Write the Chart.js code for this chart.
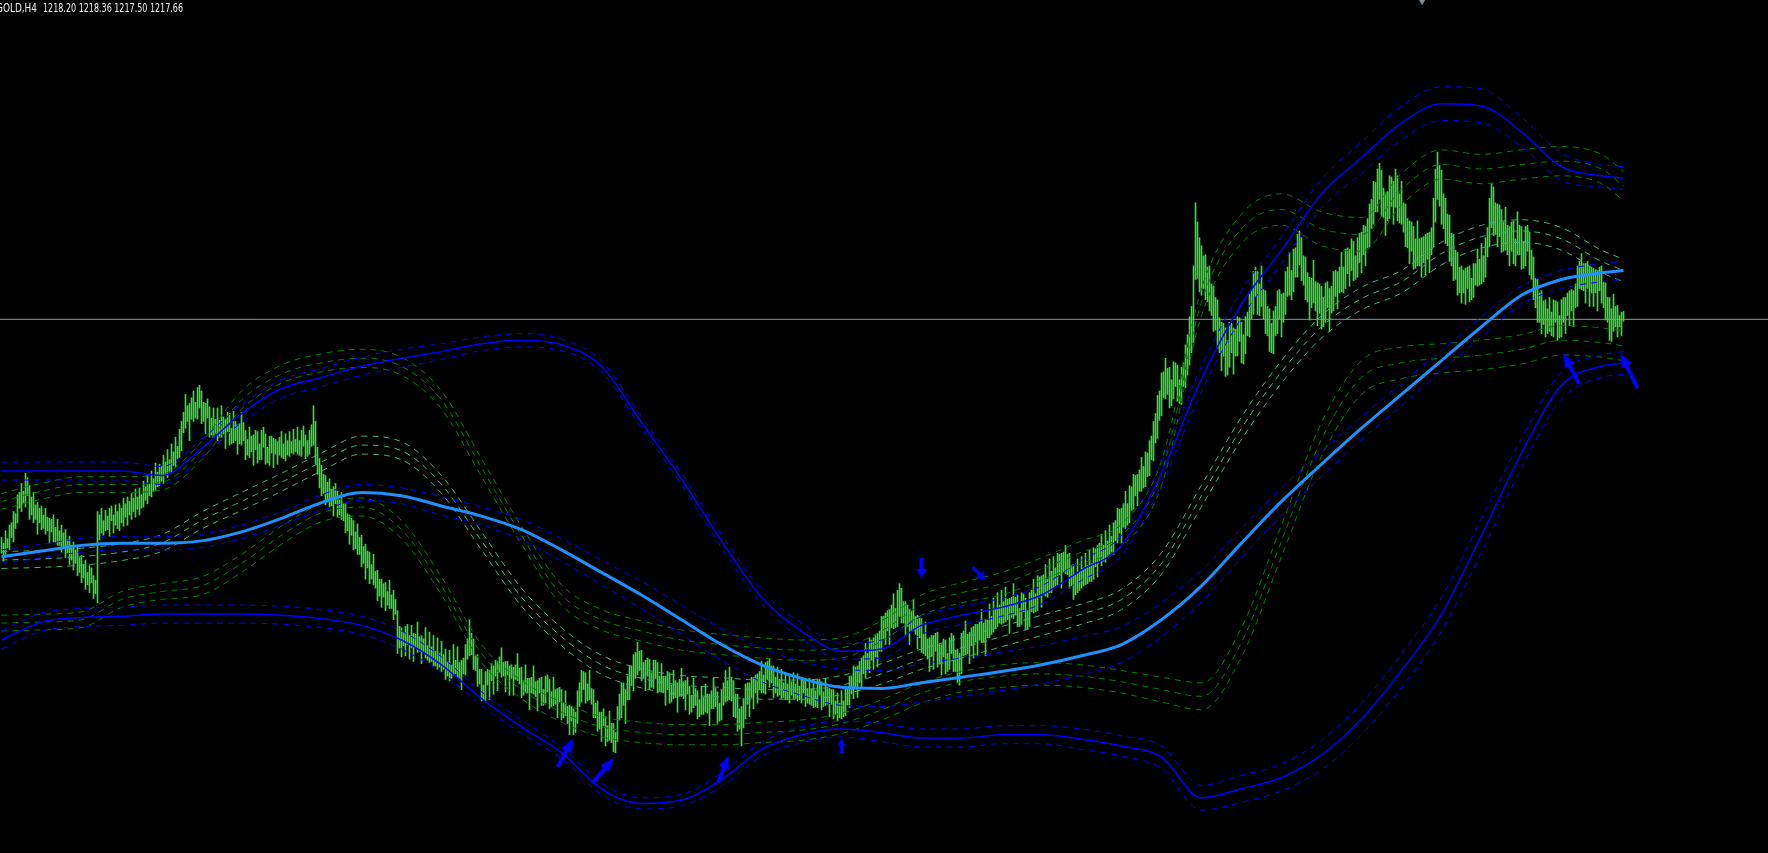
<!DOCTYPE html>
<html><head><meta charset="utf-8">
<script src="https://cdn.jsdelivr.net/npm/chart.js@4.4.1/dist/chart.umd.min.js"></script>
<style>html,body{margin:0;padding:0;background:#000;overflow:hidden}canvas{display:block}</style>
</head><body>
<canvas id="c" width="1768" height="853"></canvas>
<script>
// ---------- DATA ----------
const symbolLabel = "GOLD,H4";
const lastQuote = [1218.20, 1218.36, 1217.50, 1217.66]; // open high low close of last bar
const bidPrice = 1217.66;

// H4 bars: [high, low] for each bar index
const barHL = [
[1198.3,1196.9],[1197.8,1196.2],[1198.9,1196.8],[1198.2,1197.4],[1199.4,1197.2],[1199.6,1198.3],[1200.6,1197.9],[1200.4,1199.1],[1202.1,1199.6],[1202.3,1200.9],
[1203.1,1200.6],[1202.4,1201.3],[1204.0,1201.0],[1203.6,1202.0],[1202.9,1199.9],[1201.9,1200.3],[1202.3,1199.6],[1201.2,1199.9],[1201.4,1198.6],[1200.9,1199.6],
[1201.1,1199.0],[1200.3,1199.1],[1200.9,1198.6],[1200.1,1198.9],[1200.0,1197.8],[1199.9,1198.8],[1200.3,1197.9],[1199.2,1197.9],[1199.9,1197.6],[1198.9,1197.6],
[1199.4,1197.0],[1198.7,1197.5],[1199.0,1196.5],[1198.1,1196.9],[1198.4,1195.9],[1197.6,1196.3],[1197.9,1195.4],[1197.2,1196.0],[1197.5,1194.9],[1196.5,1195.2],
[1196.7,1194.3],[1195.9,1194.7],[1196.3,1193.7],[1195.2,1194.1],[1195.8,1193.4],[1195.6,1194.3],[1194.9,1192.9],[1194.5,1193.3],[1200.6,1192.5],[1200.3,1198.1],
[1200.9,1198.7],[1199.8,1198.5],[1200.7,1198.9],[1200.2,1199.0],[1200.9,1198.4],[1201.1,1199.8],[1200.3,1198.7],[1201.2,1199.4],[1200.6,1199.1],[1201.3,1198.9],
[1200.9,1199.6],[1201.8,1199.3],[1201.3,1200.1],[1201.9,1199.4],[1201.5,1200.3],[1202.2,1199.9],[1201.8,1200.6],[1202.6,1200.1],[1201.9,1200.8],[1202.7,1200.3],
[1202.1,1200.9],[1203.3,1201.0],[1202.8,1201.6],[1203.9,1201.3],[1203.1,1202.0],[1204.2,1201.9],[1203.5,1202.4],[1204.9,1202.5],[1204.1,1202.8],[1204.8,1202.9],
[1204.6,1203.3],[1205.6,1203.1],[1205.0,1203.8],[1206.1,1203.6],[1205.2,1204.1],[1206.6,1204.0],[1205.9,1204.7],[1207.2,1204.6],[1206.4,1205.3],[1207.9,1205.4],
[1208.6,1206.0],[1209.4,1207.6],[1211.0,1208.0],[1210.0,1208.6],[1210.2,1206.9],[1210.7,1208.8],[1211.3,1208.6],[1210.3,1208.9],[1211.6,1208.8],[1211.8,1209.8],
[1211.3,1208.4],[1210.3,1208.6],[1210.2,1207.5],[1210.6,1208.9],[1209.9,1207.2],[1208.9,1207.4],[1209.8,1207.1],[1208.8,1207.5],[1209.8,1206.9],[1208.7,1207.2],
[1210.0,1207.2],[1209.0,1207.5],[1208.8,1206.2],[1209.4,1207.7],[1209.3,1206.5],[1208.0,1206.6],[1209.5,1206.7],[1208.6,1206.9],[1208.3,1205.7],[1208.4,1206.6],
[1209.4,1206.5],[1208.5,1206.9],[1207.8,1205.2],[1207.0,1205.6],[1208.1,1205.4],[1207.3,1205.9],[1207.4,1204.7],[1207.8,1206.1],[1207.7,1204.9],[1206.6,1205.2],
[1207.8,1205.2],[1208.1,1206.3],[1207.5,1204.8],[1206.3,1204.9],[1207.3,1204.7],[1207.3,1205.8],[1207.1,1204.5],[1207.0,1205.7],[1206.8,1204.8],[1207.2,1205.6],
[1207.7,1205.4],[1206.6,1205.3],[1207.5,1205.1],[1206.9,1205.6],[1207.7,1205.5],[1206.8,1205.8],[1207.9,1205.7],[1207.0,1205.9],[1208.1,1205.7],[1206.9,1205.6],
[1207.8,1205.5],[1208.2,1206.4],[1207.4,1205.3],[1206.9,1205.5],[1207.8,1205.7],[1208.3,1206.4],[1210.0,1206.5],[1208.6,1204.8],[1206.3,1203.9],[1205.3,1202.7],
[1204.7,1202.0],[1203.9,1202.2],[1203.8,1201.2],[1203.2,1201.6],[1203.5,1201.0],[1202.6,1201.1],[1202.8,1200.2],[1203.1,1201.3],[1202.4,1200.1],[1201.6,1200.3],
[1202.3,1199.9],[1201.3,1199.8],[1201.3,1198.7],[1200.4,1198.9],[1200.3,1197.7],[1200.0,1198.5],[1199.8,1197.2],[1198.8,1197.3],[1199.5,1196.8],[1198.3,1196.8],
[1198.5,1195.7],[1197.5,1196.0],[1197.7,1194.6],[1197.1,1195.6],[1197.0,1194.2],[1195.9,1194.6],[1196.8,1194.1],[1195.3,1193.8],[1195.4,1192.7],[1194.6,1193.1],
[1194.6,1192.1],[1194.2,1193.0],[1194.3,1191.8],[1193.5,1192.3],[1194.5,1192.0],[1193.2,1192.0],[1193.6,1191.0],[1192.8,1191.5],[1191.8,1188.0],[1190.4,1188.5],
[1190.3,1187.7],[1189.9,1188.7],[1190.4,1187.8],[1190.6,1188.8],[1189.6,1187.5],[1190.5,1188.5],[1189.8,1187.3],[1189.7,1188.5],[1190.8,1188.1],[1189.5,1188.2],
[1189.6,1187.1],[1189.3,1188.1],[1190.3,1187.6],[1188.7,1187.4],[1189.9,1187.2],[1188.6,1187.3],[1189.6,1186.9],[1188.2,1186.9],[1189.4,1186.6],[1188.0,1186.8],
[1189.1,1186.4],[1187.9,1186.6],[1188.4,1185.7],[1187.3,1186.0],[1188.3,1185.6],[1187.0,1185.8],[1188.8,1186.1],[1187.4,1186.2],[1188.6,1185.9],[1187.2,1185.8],
[1187.4,1184.8],[1187.6,1186.2],[1188.8,1186.1],[1189.3,1187.5],[1191.0,1187.8],[1189.8,1187.9],[1189.3,1186.6],[1187.8,1186.5],[1187.9,1185.1],[1186.6,1185.3],
[1186.6,1183.8],[1185.2,1183.9],[1186.4,1183.7],[1186.6,1185.2],[1186.5,1183.9],[1187.1,1185.6],[1186.9,1184.4],[1187.4,1186.0],[1187.3,1184.7],[1187.7,1186.3],
[1188.5,1185.9],[1187.2,1186.0],[1187.3,1184.6],[1187.3,1186.1],[1186.9,1184.3],[1187.0,1185.8],[1186.8,1184.3],[1187.0,1185.7],[1188.0,1185.6],[1186.7,1185.3],
[1186.8,1184.1],[1185.6,1184.3],[1187.0,1184.5],[1185.8,1184.5],[1185.8,1183.0],[1185.9,1184.5],[1186.9,1184.4],[1185.5,1184.2],[1185.6,1182.9],[1185.8,1184.5],
[1185.9,1183.4],[1184.8,1183.4],[1186.0,1183.6],[1186.1,1184.6],[1185.7,1183.1],[1184.6,1183.3],[1185.9,1183.4],[1184.8,1183.5],[1184.9,1182.3],[1185.0,1183.7],
[1184.8,1182.1],[1183.6,1182.3],[1184.7,1182.5],[1183.3,1181.8],[1183.4,1180.8],[1183.3,1182.0],[1183.1,1180.8],[1182.8,1181.0],[1184.7,1181.8],[1185.4,1183.3],
[1186.5,1183.7],[1186.4,1184.8],[1186.3,1183.6],[1185.3,1183.8],[1186.5,1183.9],[1184.9,1183.5],[1184.8,1182.3],[1183.6,1182.3],[1183.8,1181.1],[1182.8,1181.3],
[1182.8,1180.2],[1183.1,1181.6],[1182.4,1179.8],[1181.6,1180.2],[1182.9,1180.3],[1181.8,1180.1],[1181.8,1179.3],[1181.0,1179.2],[1183.3,1180.2],[1184.4,1182.1],
[1185.4,1182.3],[1185.4,1183.4],[1184.8,1181.8],[1186.0,1183.9],[1186.9,1183.9],[1186.9,1185.2],[1187.9,1184.7],[1188.1,1185.8],[1189.0,1186.1],[1188.2,1186.5],
[1188.3,1185.6],[1187.2,1185.8],[1187.4,1184.7],[1187.6,1186.0],[1187.5,1184.8],[1186.3,1185.0],[1187.4,1184.9],[1187.4,1185.8],[1187.2,1184.5],[1186.0,1184.7],
[1187.1,1184.6],[1186.0,1184.5],[1186.0,1183.4],[1186.4,1184.8],[1186.3,1183.6],[1185.2,1183.7],[1186.5,1184.0],[1185.6,1184.1],[1185.4,1182.8],[1185.7,1184.2],
[1186.7,1184.2],[1185.5,1184.0],[1185.6,1183.0],[1185.9,1184.4],[1185.1,1182.6],[1184.3,1182.8],[1185.8,1183.2],[1184.9,1183.4],[1184.7,1182.2],[1183.9,1182.4],
[1185.1,1182.6],[1184.1,1182.6],[1185.3,1182.8],[1184.4,1182.7],[1184.4,1181.6],[1184.7,1183.1],[1185.8,1183.1],[1184.9,1183.3],[1184.6,1181.8],[1183.6,1182.0],
[1184.8,1182.1],[1185.4,1183.4],[1186.5,1183.7],[1185.6,1183.8],[1186.8,1183.9],[1185.9,1183.8],[1185.6,1182.4],[1184.4,1182.3],[1184.4,1181.1],[1183.1,1181.3],
[1183.3,1179.8],[1184.0,1181.4],[1185.3,1182.2],[1185.4,1183.5],[1185.4,1182.4],[1185.9,1184.1],[1185.9,1183.1],[1186.1,1184.5],[1186.2,1183.6],[1186.4,1184.8],
[1187.3,1184.5],[1186.1,1184.5],[1187.2,1184.4],[1187.3,1185.7],[1187.5,1185.0],[1186.9,1185.4],[1186.9,1184.1],[1185.9,1184.5],[1186.8,1184.2],[1185.7,1184.3],
[1186.6,1184.0],[1185.4,1184.1],[1186.3,1183.9],[1185.3,1183.9],[1186.1,1183.6],[1185.5,1184.3],[1186.3,1184.0],[1185.3,1184.0],[1186.2,1183.8],[1185.1,1183.9],
[1185.9,1183.6],[1185.8,1184.5],[1185.7,1183.3],[1184.9,1183.6],[1185.8,1183.5],[1184.9,1183.4],[1185.7,1183.2],[1184.7,1183.3],[1185.7,1183.2],[1185.7,1184.3],
[1185.5,1183.0],[1184.6,1183.3],[1185.8,1183.4],[1184.9,1183.5],[1184.9,1182.4],[1184.8,1183.5],[1184.8,1182.2],[1183.8,1182.6],[1184.5,1182.0],[1183.6,1182.3],
[1184.7,1182.2],[1183.8,1182.4],[1185.0,1182.5],[1185.0,1183.4],[1186.0,1183.2],[1186.0,1184.4],[1186.9,1184.0],[1186.8,1185.0],[1186.9,1184.1],[1187.3,1185.4],
[1187.6,1185.0],[1187.8,1186.2],[1188.9,1185.8],[1188.0,1186.6],[1189.4,1186.3],[1189.2,1187.4],[1189.4,1186.6],[1189.6,1187.7],[1189.8,1186.8],[1190.0,1188.2],
[1191.3,1188.2],[1191.3,1189.3],[1191.6,1188.8],[1191.8,1190.0],[1191.9,1188.8],[1192.3,1190.3],[1193.3,1190.2],[1192.0,1190.3],[1193.6,1190.4],[1194.2,1191.3],
[1193.8,1190.7],[1192.6,1190.7],[1192.6,1189.6],[1192.3,1190.4],[1191.9,1188.8],[1191.8,1190.0],[1192.8,1190.0],[1191.3,1189.7],[1191.4,1188.4],[1191.3,1189.4],
[1191.1,1188.1],[1189.8,1188.0],[1190.8,1187.8],[1189.3,1187.5],[1189.4,1186.4],[1189.6,1187.8],[1189.6,1186.6],[1189.8,1188.2],[1189.9,1186.8],[1188.8,1187.1],
[1188.8,1186.1],[1189.3,1187.7],[1189.2,1186.2],[1188.0,1186.4],[1189.4,1186.6],[1189.8,1188.0],[1189.6,1186.4],[1188.3,1186.4],[1188.4,1185.4],[1188.0,1185.2],
[1189.8,1186.2],[1190.0,1187.8],[1190.9,1187.9],[1189.7,1188.0],[1189.9,1187.1],[1190.3,1188.7],[1190.4,1187.6],[1190.6,1189.0],[1190.6,1187.8],[1190.8,1189.2],
[1191.9,1189.0],[1190.7,1189.0],[1191.0,1187.8],[1191.0,1189.4],[1192.4,1189.4],[1191.3,1189.7],[1192.9,1189.9],[1192.0,1190.2],[1193.4,1190.4],[1192.3,1190.7],
[1193.6,1190.6],[1192.6,1190.7],[1193.9,1190.8],[1192.8,1191.0],[1192.9,1189.8],[1193.0,1191.2],[1194.2,1191.1],[1193.0,1191.4],[1193.2,1190.4],[1192.0,1190.4],
[1193.4,1190.6],[1193.3,1191.7],[1192.9,1190.1],[1191.8,1190.2],[1193.4,1190.4],[1193.6,1191.7],[1194.6,1191.6],[1193.3,1191.7],[1194.9,1191.8],[1194.8,1193.0],
[1194.9,1192.1],[1195.0,1193.2],[1195.9,1193.1],[1194.6,1193.0],[1196.4,1193.4],[1195.3,1193.4],[1196.6,1193.8],[1195.6,1194.0],[1196.9,1194.1],[1196.8,1195.0],
[1196.9,1193.8],[1197.0,1195.2],[1197.6,1195.1],[1196.8,1195.0],[1196.9,1193.8],[1195.8,1194.0],[1195.9,1192.8],[1195.0,1193.2],[1196.4,1193.4],[1195.3,1193.6],
[1196.6,1193.8],[1195.6,1194.0],[1196.9,1194.1],[1195.8,1194.2],[1197.2,1194.4],[1196.0,1194.4],[1197.4,1194.6],[1197.3,1195.7],[1197.6,1194.8],[1197.8,1196.2],
[1198.6,1195.8],[1197.6,1196.2],[1198.9,1196.1],[1198.0,1196.6],[1199.4,1196.6],[1198.4,1197.0],[1199.6,1196.8],[1199.8,1198.0],[1200.9,1197.8],[1200.8,1198.7],
[1200.9,1197.8],[1201.3,1199.2],[1202.4,1199.1],[1201.3,1199.4],[1202.9,1199.6],[1202.8,1200.7],[1203.9,1200.8],[1203.8,1202.0],[1203.9,1201.1],[1204.3,1202.4],
[1205.4,1202.4],[1204.6,1202.7],[1205.9,1202.8],[1205.8,1203.7],[1206.9,1203.8],[1207.3,1205.2],[1208.6,1205.1],[1209.3,1206.7],[1210.9,1207.1],[1211.3,1208.7],
[1212.9,1209.1],[1213.0,1210.7],[1214.2,1210.6],[1213.3,1211.0],[1213.4,1209.8],[1212.3,1210.0],[1213.9,1210.6],[1213.8,1211.7],[1213.6,1210.4],[1212.3,1210.2],
[1213.4,1210.1],[1213.8,1211.7],[1215.4,1211.6],[1216.3,1212.7],[1217.9,1213.6],[1218.8,1214.7],[1222.4,1215.6],[1228.0,1221.2],[1226.3,1221.3],[1224.9,1220.1],
[1224.2,1219.8],[1223.3,1220.4],[1223.4,1219.4],[1222.3,1219.2],[1222.4,1218.4],[1220.8,1218.0],[1220.6,1216.6],[1219.6,1216.7],[1219.4,1215.1],[1217.8,1214.7],
[1217.4,1213.1],[1217.3,1214.4],[1216.9,1212.6],[1215.8,1212.7],[1217.4,1213.4],[1217.3,1214.7],[1216.9,1212.8],[1216.8,1214.4],[1217.9,1214.4],[1217.8,1215.7],
[1217.4,1213.8],[1216.3,1213.7],[1217.9,1214.6],[1218.3,1216.2],[1219.9,1216.1],[1220.3,1217.7],[1221.9,1218.1],[1222.3,1219.7],[1221.9,1218.1],[1220.8,1218.0],
[1222.4,1218.8],[1220.3,1217.7],[1220.2,1216.4],[1218.8,1216.2],[1218.6,1214.8],[1217.3,1214.7],[1218.4,1214.6],[1218.8,1216.2],[1220.2,1216.4],[1220.3,1217.7],
[1219.9,1216.1],[1220.0,1217.4],[1221.9,1218.1],[1222.3,1219.7],[1223.6,1219.8],[1222.0,1219.4],[1223.9,1220.1],[1224.0,1221.4],[1225.2,1221.4],[1225.5,1222.5],
[1224.9,1221.1],[1223.3,1220.7],[1223.2,1219.4],[1221.8,1219.2],[1221.4,1217.6],[1221.3,1218.7],[1222.9,1219.1],[1221.0,1218.4],[1220.9,1217.1],[1220.8,1218.2],
[1220.6,1216.8],[1219.6,1217.0],[1220.9,1217.4],[1221.0,1218.7],[1220.4,1216.6],[1220.6,1218.2],[1221.9,1218.4],[1222.0,1219.7],[1221.9,1218.6],[1222.3,1220.0],
[1223.6,1220.1],[1222.3,1220.0],[1223.9,1220.4],[1224.0,1221.7],[1223.9,1220.6],[1224.8,1222.0],[1224.6,1221.1],[1223.3,1221.2],[1224.9,1221.4],[1225.3,1222.7],
[1225.4,1221.8],[1226.0,1223.4],[1225.9,1222.4],[1226.6,1224.0],[1227.9,1224.1],[1228.3,1225.7],[1229.9,1226.1],[1229.8,1227.2],[1231.0,1227.2],[1231.5,1228.3],
[1230.9,1226.8],[1229.3,1226.7],[1228.9,1225.1],[1229.0,1226.4],[1230.4,1226.6],[1230.3,1227.7],[1229.9,1226.1],[1231.0,1227.6],[1230.4,1226.4],[1228.8,1226.2],
[1229.9,1226.1],[1228.0,1225.4],[1227.9,1224.1],[1226.6,1224.0],[1226.4,1222.6],[1226.3,1223.7],[1225.9,1222.1],[1224.8,1222.2],[1226.4,1222.4],[1224.8,1222.4],
[1224.9,1221.4],[1225.0,1222.7],[1225.2,1221.6],[1225.3,1223.0],[1225.4,1221.8],[1225.8,1223.4],[1228.4,1224.1],[1231.0,1226.3],[1232.5,1228.3],[1231.3,1227.7],
[1230.9,1226.1],[1228.8,1225.7],[1228.4,1224.4],[1227.0,1224.2],[1226.9,1222.8],[1225.3,1222.4],[1225.2,1221.1],[1223.8,1221.2],[1223.6,1219.8],[1222.3,1220.0],
[1222.4,1219.1],[1222.0,1220.0],[1222.2,1219.0],[1222.3,1220.4],[1222.4,1219.2],[1221.3,1219.4],[1222.6,1219.6],[1222.6,1220.7],[1223.9,1220.6],[1223.0,1220.7],
[1224.4,1220.8],[1223.3,1221.0],[1224.9,1221.4],[1225.8,1223.2],[1228.4,1224.1],[1229.7,1225.8],[1229.4,1225.1],[1228.0,1225.2],[1227.9,1224.1],[1227.8,1225.0],
[1227.4,1223.6],[1226.3,1223.7],[1227.6,1223.8],[1226.0,1223.4],[1225.9,1222.4],[1226.3,1223.7],[1226.4,1222.6],[1224.8,1222.4],[1227.2,1223.4],[1226.0,1223.4],
[1225.9,1222.1],[1224.6,1222.2],[1225.9,1222.4],[1226.0,1223.7],[1225.4,1221.6],[1223.8,1221.2],[1223.2,1219.4],[1221.3,1218.7],[1221.2,1217.4],[1220.0,1217.4],
[1220.2,1216.4],[1219.3,1217.2],[1219.4,1216.1],[1218.6,1216.4],[1219.6,1216.6],[1218.3,1216.2],[1219.4,1216.1],[1219.3,1217.4],[1219.2,1215.8],[1218.0,1216.0],
[1219.4,1216.1],[1219.6,1217.4],[1219.6,1216.4],[1220.0,1218.0],[1220.2,1217.1],[1220.3,1218.4],[1220.2,1217.0],[1220.8,1218.7],[1222.4,1218.8],[1222.8,1220.4],
[1223.5,1220.3],[1222.6,1220.2],[1222.6,1219.1],[1222.8,1220.4],[1222.4,1218.8],[1222.3,1220.0],[1222.2,1218.8],[1222.0,1220.0],[1221.9,1218.4],[1222.3,1220.2],
[1222.4,1219.1],[1221.0,1218.7],[1220.9,1217.6],[1219.6,1217.4],[1219.6,1215.8],[1218.6,1215.7],[1219.9,1216.6],[1218.8,1217.0],[1218.9,1216.1],[1218.0,1217.0],
[1218.3,1216.2],[1218.36,1217.50]
];

// Indicator lines, sampled every 20 bars (bar index)
const lineIdx = [0,20,40,60,80,100,120,140,160,180,200,220,240,260,280,300,320,340,360,380,400,420,440,460,480,500,520,540,560,580,600,620,640,660,680,700,720,740,760,780,800,811];

// slow channel: centre line and its two outer bands
const slowMid = [1196.6,1197.1,1197.6,1197.8,1197.8,1198.0,1198.8,1200.0,1201.4,1202.3,1202.0,1201.1,1200.2,1199.0,1197.2,1195.2,1193.2,1191.0,1188.8,1187.0,1185.8,1185.0,1184.9,1185.4,1185.9,1186.4,1187.0,1187.8,1188.8,1191.0,1194.0,1197.8,1201.5,1204.8,1208.0,1211.0,1214.0,1217.0,1219.8,1221.2,1221.8,1222.0];
const slowMidDev = [0.6,0.6,0.6,0.6,0.6,0.6,0.6,0.6,0.7,0.7,0.7,0.8,0.8,0.9,1.0,1.1,1.2,1.3,1.4,1.5,1.5,1.6,1.6,1.7,1.7,1.7,1.7,1.7,1.6,1.5,1.4,1.3,1.2,1.1,1.0,1.0,0.9,0.9,0.8,0.8,0.8,0.8];
const slowUpper = [1204.2,1204.2,1204.2,1204.2,1203.8,1206.2,1209.3,1211.5,1212.5,1213.5,1214.2,1214.8,1215.5,1215.8,1215.4,1213.5,1208.5,1203.5,1198.0,1193.0,1190.0,1188.2,1188.4,1190.5,1191.4,1192.1,1193.2,1195.4,1197.6,1204.0,1212.4,1219.0,1223.8,1228.8,1232.0,1235.1,1236.8,1236.6,1234.3,1231.2,1230.4,1230.2];
const slowLower = [1189.2,1190.8,1191.2,1191.3,1191.5,1191.5,1191.5,1191.4,1191.1,1190.5,1189.2,1187.0,1184.0,1181.5,1179.2,1176.0,1174.7,1175.0,1176.8,1179.5,1180.8,1181.3,1181.0,1180.5,1180.5,1180.8,1180.8,1180.4,1179.8,1178.8,1175.2,1176.0,1177.0,1179.0,1182.2,1186.5,1191.5,1198.5,1205.8,1211.8,1213.5,1213.8];
const slowBandDev = [0.8,0.8,0.8,0.8,0.8,0.8,0.8,0.8,0.8,0.8,0.8,0.7,0.6,0.6,0.5,0.5,0.5,0.5,0.6,0.6,0.7,0.7,0.8,0.8,0.8,0.8,0.8,0.9,0.9,1.0,1.1,1.2,1.2,1.3,1.4,1.5,1.5,1.5,1.3,1.2,1.0,1.0];

// fast channel: centre line and its two bands
const fastMid = [1196.3,1196.4,1196.6,1197.0,1197.8,1199.8,1201.5,1203.2,1205.0,1206.5,1206.0,1203.0,1198.0,1193.0,1189.5,1187.0,1185.8,1185.2,1185.0,1184.8,1184.8,1185.2,1186.2,1187.5,1188.5,1189.5,1190.5,1191.5,1192.8,1196.0,1202.0,1208.0,1213.0,1217.0,1219.5,1221.0,1223.5,1225.0,1225.5,1224.8,1222.8,1222.0];
const fastMidDev = [0.75,0.75,0.75,0.75,0.75,0.75,0.8,0.8,0.8,0.8,0.8,0.8,0.8,0.8,0.8,0.85,0.85,0.85,0.85,0.85,0.85,0.85,0.9,0.9,0.9,0.9,0.9,0.9,0.9,0.95,0.95,1.0,1.0,1.0,1.0,1.0,1.0,1.0,1.0,1.0,1.0,1.0];
const fastUpper = [1201.5,1202.4,1203.0,1203.0,1203.2,1206.0,1210.5,1212.8,1213.8,1214.2,1213.5,1210.5,1204.5,1198.5,1193.2,1191.0,1190.0,1189.2,1188.8,1188.5,1188.3,1188.5,1190.0,1192.3,1193.4,1194.2,1195.5,1197.0,1198.5,1204.0,1219.2,1225.7,1227.4,1225.7,1225.2,1229.2,1231.4,1231.0,1231.4,1231.7,1231.0,1229.5];
const fastLower = [1190.7,1190.8,1191.0,1192.8,1193.5,1194.0,1196.0,1198.5,1200.5,1201.0,1199.0,1194.0,1188.0,1184.8,1182.8,1181.5,1181.0,1180.8,1180.8,1181.0,1181.2,1181.8,1183.0,1184.5,1185.5,1186.0,1186.2,1186.0,1185.5,1184.8,1184.2,1189.0,1198.0,1207.0,1212.5,1213.8,1214.2,1214.5,1215.0,1215.8,1215.6,1215.3];
const fastBandDev = [0.7,0.7,0.7,0.7,0.7,0.8,0.8,0.8,0.8,0.8,0.8,0.8,0.8,0.8,0.9,0.9,0.9,0.9,0.9,0.9,0.9,0.9,0.9,0.9,0.9,1.0,1.0,1.0,1.0,1.1,1.2,1.3,1.4,1.5,1.5,1.4,1.3,1.3,1.3,1.3,1.3,1.3];

// signal arrows (bar index, price)
const arrowBar   = [282, 300.75, 361, 420, 460, 488.75, 784.75, 813.75];
const arrowPrice = [1179.2, 1177.6, 1177.75, 1179.8, 1195.6, 1195.1, 1213.3, 1213.1];
const shiftMarkBar = 710.3, shiftMarkPrice = 1245.95;

// ---------- STYLE ----------
const arrowAngle = [29, 40, 21, 0, 180, 135, -27, -26];
const arrowLen   = [33, 33, 28, 15, 20, 18, 34, 39];
const X_MIN = -0.75, X_MAX = 883.25, Y_MIN = 1170.3, Y_MAX = 1246.0;
const DASH = [6, 5];

function makeArrow(len) {
  const s = Math.ceil(len + 6);
  const c = document.createElement('canvas'); c.width = s; c.height = s;
  const g = c.getContext('2d');
  g.fillStyle = '#0000ff';
  const cx = s / 2, top = (s - len) / 2, bot = top + len;
  const headL = Math.min(14, len * 0.45), headW = Math.min(11, len * 0.55), shaftW = len < 20 ? 3 : 4;
  g.beginPath();
  g.moveTo(cx, top);
  g.lineTo(cx + headW / 2, top + headL);
  g.lineTo(cx + shaftW / 2, top + headL);
  g.lineTo(cx + shaftW / 2, bot);
  g.lineTo(cx - shaftW / 2, bot);
  g.lineTo(cx - shaftW / 2, top + headL);
  g.lineTo(cx - headW / 2, top + headL);
  g.closePath(); g.fill();
  return c;
}

const pts = (vals, devs, k) => lineIdx.map((x, j) => ({ x, y: vals[j] + k * devs[j] }));
function triple(vals, devs, color, solidMid, midWidth, order) {
  return [-1, 0, 1].map(k => ({
    type: 'line', data: pts(vals, devs, k), borderColor: color,
    borderWidth: (k === 0 && solidMid) ? midWidth : 1,
    borderDash: (k === 0 && solidMid) ? [] : DASH,
    pointRadius: 0, fill: false, cubicInterpolationMode: 'monotone', order
  }));
}

const datasets = [];
datasets.push({
  type: 'bar', data: barHL.map((d, i) => ({ x: i, y: [d[1], d[0]] })),
  backgroundColor: '#36e036', borderWidth: 0, barThickness: 1, grouped: false, order: 10
});
datasets.push({
  type: 'line', data: [{ x: X_MIN, y: bidPrice }, { x: X_MAX, y: bidPrice }],
  borderColor: '#8a96a3', borderWidth: 1, pointRadius: 0, order: 20
});
datasets.push(...triple(fastMid, fastMidDev, '#3cb371', false, 1, 3));
datasets.push(...triple(fastUpper, fastBandDev, '#008000', false, 1, 3));
datasets.push(...triple(fastLower, fastBandDev, '#008000', false, 1, 3));
datasets.push(...triple(slowUpper, slowBandDev, '#0000ff', true, 1.5, 2));
datasets.push(...triple(slowLower, slowBandDev, '#0000ff', true, 1.5, 2));
datasets.push(...triple(slowMid, slowMidDev, '#0000ff', false, 1, 2));
datasets.push({
  type: 'line', data: pts(slowMid, slowMidDev, 0), borderColor: '#1e90ff', borderWidth: 3,
  pointRadius: 0, cubicInterpolationMode: 'monotone', order: 1
});
datasets.push({
  type: 'line', showLine: false, data: arrowBar.map((x, j) => ({ x, y: arrowPrice[j] })),
  pointStyle: arrowLen.map(makeArrow), pointRotation: arrowAngle, pointRadius: 5, order: 0
});
datasets.push({
  type: 'line', showLine: false, data: [{ x: shiftMarkBar, y: shiftMarkPrice }],
  pointStyle: 'triangle', pointRotation: 180, pointRadius: 4.6,
  pointBackgroundColor: '#7f8c99', pointBorderColor: '#7f8c99', pointBorderWidth: 0, order: 0
});

function fitText(ctx, text, x, y, w) {
  const m = ctx.measureText(text).width;
  ctx.save(); ctx.translate(x, y); ctx.scale(w / m, 1); ctx.fillText(text, 0, 0); ctx.restore();
}
const headerPlugin = {
  id: 'header',
  afterDraw(chart) {
    const ctx = chart.ctx;
    ctx.save();
    ctx.fillStyle = '#f2f2f2';
    ctx.font = '12px "DejaVu Sans", "Liberation Sans", sans-serif';
    ctx.textBaseline = 'alphabetic';
    fitText(ctx, symbolLabel, -4, 11.5, 41);
    fitText(ctx, lastQuote.map(v => v.toFixed(2)).join(' '), 43, 11.5, 140);
    ctx.restore();
  }
};

new Chart(document.getElementById('c'), {
  type: 'bar',
  data: { datasets },
  options: {
    responsive: false, animation: false, devicePixelRatio: 1, events: [],
    layout: { padding: 0, autoPadding: false },
    plugins: { legend: { display: false }, tooltip: { enabled: false }, title: { display: false } },
    scales: {
      x: { type: 'linear', min: X_MIN, max: X_MAX, display: false, offset: false, grid: { display: false } },
      y: { type: 'linear', min: Y_MIN, max: Y_MAX, display: false, grid: { display: false } }
    }
  },
  plugins: [headerPlugin]
});
</script>
</body></html>
